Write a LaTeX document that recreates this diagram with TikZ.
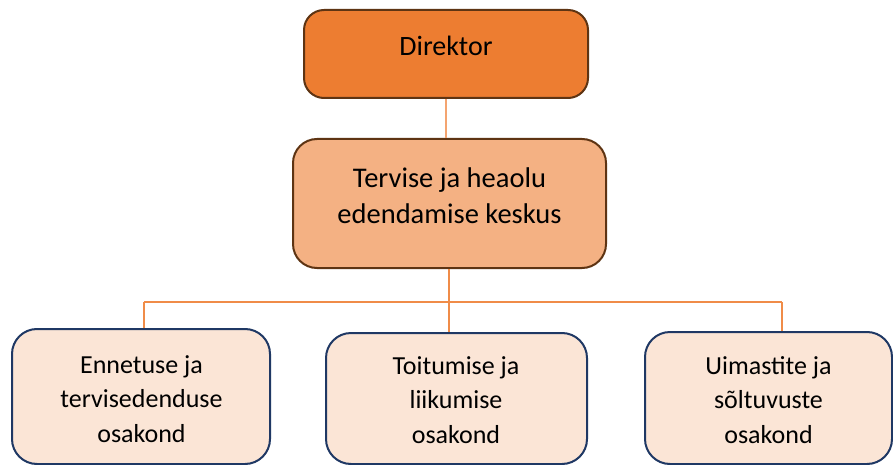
\documentclass[tikz,border=0pt]{standalone}
\usepackage{fontspec}
\setmainfont{Carlito}
\definecolor{dirfill}{HTML}{ED7D31}
\definecolor{midfill}{HTML}{F4B183}
\definecolor{depfill}{HTML}{FBE5D6}
\definecolor{brownline}{HTML}{5E3413}
\definecolor{navyline}{HTML}{1F3864}
\definecolor{topconn}{HTML}{F4A470}
\definecolor{busline}{HTML}{F08C48}
\begin{document}
\begin{tikzpicture}[x=1pt,y=-1pt,
  boxbase/.style={draw, line width=2pt, inner sep=0pt},
  dirbox/.style={boxbase, rounded corners=20pt, fill=dirfill, draw=brownline, minimum width=284pt, minimum height=88pt},
  midbox/.style={boxbase, rounded corners=24pt, fill=midfill, draw=brownline, minimum width=313pt, minimum height=129pt},
  depbox/.style={boxbase, rounded corners=25pt, fill=depfill, draw=navyline, minimum height=132pt},
  bigtext/.style={inner sep=0pt, align=center, font=\fontsize{28.5}{36}\selectfont},
  deptext/.style={inner sep=0pt, align=center, font=\fontsize{26}{34.5}\selectfont},
  topline/.style={draw=topconn, line width=2pt},
  busconn/.style={draw=busline, line width=1.5pt}
]
\useasboundingbox (0,0) rectangle (893,465);
\clip (0,0) rectangle (893,465);
\fill[white] (0,0) rectangle (893,465);

% boxes
\node[dirbox] (dir) at (446,54) {};
\node[midbox] (mid) at (449.5,203.5) {};
\node[depbox, minimum width=258pt, minimum height=135pt] (d1) at (141,396.5) {};
\node[depbox, minimum width=261pt, minimum height=131pt] (d2) at (456.5,398.5) {};
\node[depbox, minimum width=247pt] (d3) at (768.5,398) {};

% connectors
\coordinate (j1) at (144,302);
\coordinate (j2) at (449,302);
\coordinate (j3) at (782,302);
\path[topline] (dir.south) -- (dir.south |- mid.north);
\path[busconn] (mid.south -| j2) -- (j2);
\path[busconn] (j1) -- (j3);
\path[busconn] (j1) -- (j1 |- d1.north);
\path[busconn] (j2) -- (j2 |- d2.north);
\path[busconn] (j3) -- (j3 |- d3.north);

% texts
\node[inner sep=0pt, anchor=base, font=\fontsize{28}{34}\selectfont] (dirT) at (446,56) {Direktor};
\node[bigtext] (midT) at (449.5,197.8) {\strut Tervise ja heaolu\\\strut edendamise keskus};
\node[deptext] (d1T) at (141.5,400.6) {\strut Ennetuse ja\\\strut tervisedenduse\\\strut osakond};
\node[deptext] (d2T) at (456,401.6) {\strut Toitumise ja\\\strut liikumise\\\strut osakond};
\node[deptext] (d3T) at (768.5,402) {\strut Uimastite ja\\\strut sõltuvuste\\\strut osakond};
\end{tikzpicture}
\end{document}
